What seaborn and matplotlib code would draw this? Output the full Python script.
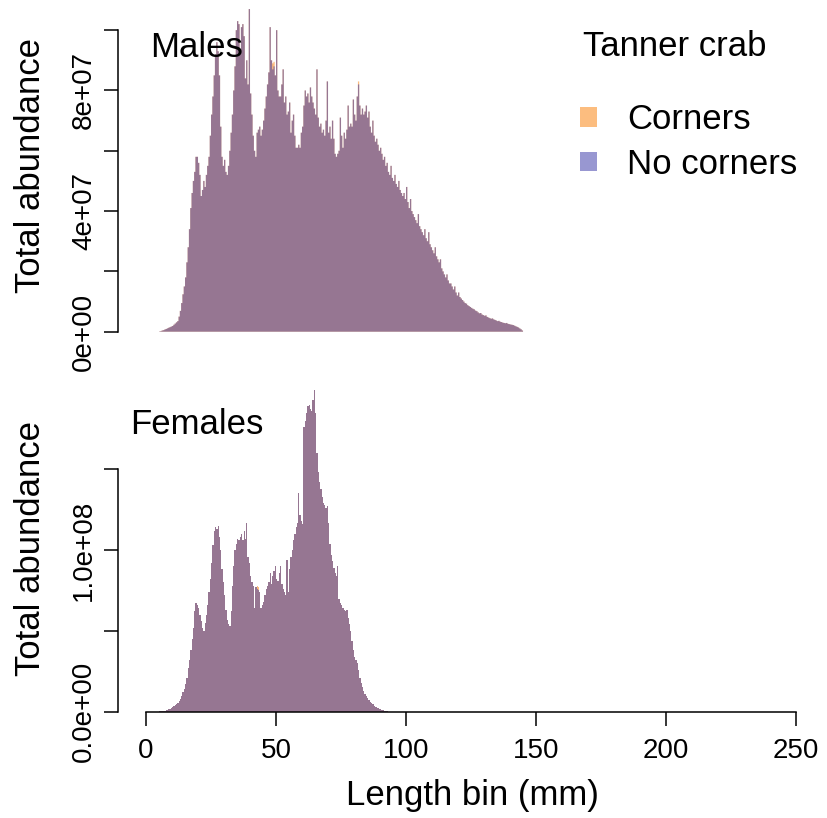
import numpy as np
import pandas as pd
import matplotlib
matplotlib.use("Agg")
import matplotlib.pyplot as plt
from matplotlib.patches import Patch
import seaborn as sns

# Length-frequency of Tanner crab, 0.5 mm bins starting at 5 mm.
# Abundances are in millions of crabs.
bin_width = 0.5
first_bin = 5.0

males_no_corners = [
    0.1, 0.2, 0.4, 0.5, 0.7, 0.9, 1.1, 1.3, 1.5, 1.7,
    1.9, 2.3, 2.7, 3.1, 3.5, 5.0, 6.9, 9.5, 12.4, 15,
    18, 23, 28, 34, 41, 46, 50, 53, 58, 58,
    56, 52, 45, 47, 50, 48, 52, 55, 58, 65,
    72, 78, 85, 92, 96, 93, 85, 68, 58, 55,
    57, 53, 52, 55, 60, 66, 72, 80, 88, 100,
    103, 102, 92, 101, 102, 98, 84, 90, 82, 107,
    79, 72, 65, 60, 58, 66, 67, 68, 65, 67,
    70, 74, 78, 82, 86, 101, 90, 87, 88, 85,
    100, 80, 78, 78, 82, 87, 76, 78, 72, 73,
    76, 66, 70, 72, 65, 61, 61, 62, 61, 66,
    68, 75, 80, 78, 79, 76, 81, 78, 76, 74,
    72, 87, 71, 68, 69, 66, 67, 65, 70, 83,
    66, 68, 64, 70, 64, 59, 58, 59, 60, 71,
    65, 61, 66, 64, 67, 75, 68, 69, 68, 77,
    72, 70, 78, 82, 75, 72, 74, 72, 73, 75,
    71, 73, 68, 66, 70, 65, 63, 64, 62, 60,
    61, 59, 57, 58, 55, 56, 53, 52, 55, 51,
    50, 52, 49, 48, 50, 47, 46, 45, 46, 44,
    48, 43, 41, 44, 40, 39, 38, 37, 36, 39,
    35, 34, 33, 32, 34, 31, 30, 33, 29, 28,
    27, 26, 28, 25, 24, 23, 24, 21, 20, 19,
    18, 19, 17, 16, 16, 15, 14, 15, 13, 12,
    13, 11.5, 11, 10.5, 10, 9.5, 9.3, 8.8, 8.5, 8.2,
    7.9, 7.6, 7.4, 7.0, 6.8, 6.4, 6.1, 6.2, 5.7, 5.5,
    5.3, 5.4, 4.9, 4.7, 4.5, 4.3, 4.4, 4.1, 3.9, 3.7,
    3.5, 3.6, 3.3, 3.2, 3.0, 2.9, 2.8, 2.9, 2.6, 2.5,
    2.4, 2.3, 2.2, 2.0, 1.8, 1.6, 1.4, 1.1, 0.8, 0.4,
]

females_no_corners = [
    0.2, 0.3, 0.4, 0.5, 0.7, 0.9, 1.1, 1.4, 1.8, 2.2,
    2.7, 3.3, 4.0, 4.6, 5.5, 6.5, 8, 10, 12, 14,
    17, 21, 27, 32, 38, 45, 52, 62, 67, 66,
    64, 60, 56, 52, 50, 55, 60, 66, 74, 82,
    92, 103, 112, 114, 113, 115, 108, 100, 88, 80,
    72, 63, 57, 54, 53, 62, 78, 90, 100, 104,
    107, 106, 108, 110, 106, 112, 107, 117, 96, 92,
    84, 80, 78, 64, 77, 76, 75, 74, 64, 66,
    68, 72, 76, 78, 80, 86, 79, 84, 87, 90,
    82, 81, 86, 90, 79, 76, 74, 72, 94, 74,
    88, 96, 100, 106, 110, 114, 117, 135, 122, 118,
    116, 176, 180, 185, 189, 190, 187, 186, 193, 199,
    185, 160, 148, 142, 138, 133, 129, 128, 126, 127,
    117, 104, 97, 93, 89, 86, 84, 90, 70, 67,
    66, 64, 63, 62, 63, 58, 54, 50, 44, 38,
    34, 32, 30, 26, 21, 18, 15, 13, 11, 10,
    8.5, 7.5, 6.3, 5.5, 4.5, 3.8, 3.1, 2.7, 2.2, 1.8,
    1.4, 1.1, 0.9, 0.6, 0.4, 0.2,
]

# The corner-station estimates only differ from the no-corner ones in a few bins
# (bin start in mm -> abundance in millions).
males_corners_diff = {48.5: 89, 49.0: 89.5, 81.5: 83}
females_corners_diff = {42.5: 78, 43.0: 77}

series_names = ["Corners", "No corners"]
series_colors = {"Corners": "#fb7d01", "No corners": "#3230a5"}

males_yticks = [0, 2e7, 4e7, 6e7, 8e7, 1e8]
males_yticklabels = ["0e+00", "", "4e+07", "", "8e+07", ""]
females_yticks = [0, 5e7, 1e8, 1.5e8]
females_yticklabels = ["0.0e+00", "", "1.0e+08", ""]
length_ticks = [0, 50, 100, 150, 200, 250]


def length_frame(no_corner_values, corner_diff):
    n = len(no_corner_values)
    edges = first_bin + bin_width * np.arange(n + 1)
    mids = edges[:-1] + bin_width / 2
    no_corners = np.asarray(no_corner_values, dtype=float) * 1e6
    corners = no_corners.copy()
    for start, value in corner_diff.items():
        corners[np.isclose(edges[:-1], start)] = value * 1e6
    df = pd.DataFrame({
        "length": np.concatenate([mids, mids]),
        "abundance": np.concatenate([corners, no_corners]),
        "survey": ["Corners"] * n + ["No corners"] * n,
    })
    return df, edges.tolist()


sns.set_style("ticks")
plt.rcParams["font.family"] = ["Liberation Sans", "DejaVu Sans"]
plt.rcParams.update({
    "axes.edgecolor": "black",
    "axes.linewidth": 1.1,
    "xtick.color": "black",
    "ytick.color": "black",
    "text.color": "black",
    "axes.labelcolor": "black",
})

W, H = 827, 818
fig = plt.figure(figsize=(W / 100, H / 100), dpi=100)
ax_m = fig.add_axes([118 / W, (H - 331.7) / H, 709 / W, 331.7 / H])
ax_f = fig.add_axes([118 / W, (H - 711.7) / H, 709 / W, (711.7 - 386) / H])

males_df, males_edges = length_frame(males_no_corners, males_corners_diff)
females_df, females_edges = length_frame(females_no_corners, females_corners_diff)

for ax, df, edges in [(ax_m, males_df, males_edges), (ax_f, females_df, females_edges)]:
    for name in series_names:
        sns.histplot(
            data=df[df["survey"] == name], x="length", weights="abundance",
            bins=edges, element="step", fill=True, stat="count",
            color=series_colors[name], alpha=0.5, linewidth=0,
            edgecolor="none", ax=ax,
        )
    ax.set_xlim(-10.77, 261.9)
    sns.despine(ax=ax)
    ax.tick_params(axis="both", length=10, width=1.1, labelsize=20, pad=5)
    ax.set_ylabel("Total abundance", fontsize=25)
    ax.yaxis.set_label_coords(-0.124, 0.5)
    ax.yaxis.label.set_va("center")

# Males panel: no x axis
ax_m.set_ylim(0, 1.1e8)
ax_m.spines["bottom"].set_visible(False)
ax_m.spines["left"].set_bounds(0, 1e8)
ax_m.set_xticks([])
ax_m.set_xlabel("")
ax_m.set_yticks(males_yticks)
ax_m.set_yticklabels(males_yticklabels, rotation=90, va="center")
ax_m.text(1.5, 9.44e7, "Males", fontsize=25, ha="left", va="center")

# Females panel with the shared length axis
ax_f.set_ylim(0, 2.015e8)
ax_f.spines["left"].set_bounds(0, 1.5e8)
ax_f.spines["bottom"].set_bounds(0, 250)
ax_f.set_xticks(length_ticks)
ax_f.set_xticklabels([str(t) for t in length_ticks])
ax_f.tick_params(axis="x", pad=9)
ax_f.set_yticks(females_yticks)
ax_f.set_yticklabels(females_yticklabels, rotation=90, va="center")
ax_f.set_xlabel("Length bin (mm)", fontsize=25)
ax_f.xaxis.set_label_coords(0.5, -0.256)
ax_f.xaxis.label.set_va("center")
ax_f.text(-6.15, 1.774e8, "Females", fontsize=25, ha="left", va="center")

# Legend
handles = [Patch(facecolor=series_colors[n], alpha=0.5, edgecolor="none") for n in series_names]
fig.text(583 / W, (H - 47) / H, "Tanner crab", fontsize=25, ha="left", va="center")
ax_m.legend(
    handles, series_names, loc="upper left",
    bbox_to_anchor=(580 / W, (H - 103) / H), bbox_transform=fig.transFigure,
    frameon=False, fontsize=25, borderpad=0, borderaxespad=0,
    handlelength=0.5, handleheight=0.5, handletextpad=0.86, labelspacing=0.34,
)

fig.savefig("out.png", dpi=100)
